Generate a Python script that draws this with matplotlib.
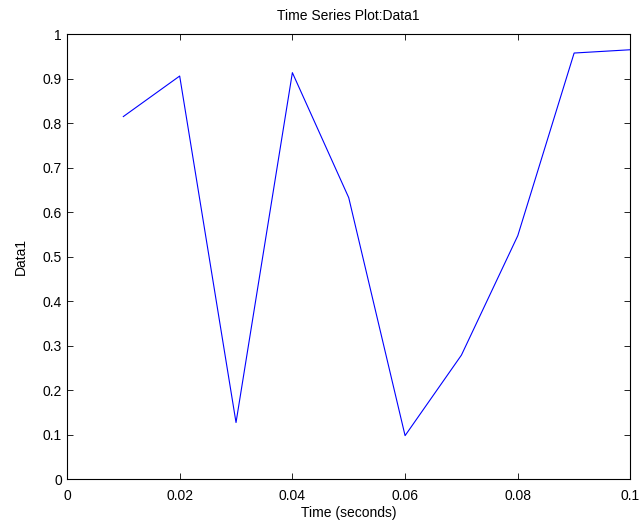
import numpy as np
import matplotlib
matplotlib.use("Agg")
import matplotlib.pyplot as plt

plt.rcParams['font.family'] = ['Liberation Sans', 'DejaVu Sans']

# time points and Data1 samples
time = [0.01, 0.02, 0.03, 0.04, 0.05, 0.06, 0.07, 0.08, 0.09, 0.10]
data1 = [0.8147, 0.9058, 0.1270, 0.9134, 0.6324, 0.0975, 0.2785, 0.5469, 0.9575, 0.9649]

fig = plt.figure(figsize=(6.44, 5.25), dpi=100)
ax = fig.add_axes([0.104, 0.0876, 0.875, 0.8474])
ax.plot(time, data1, color='b', linewidth=0.8)

ax.set_xlim(0, 0.1)
ax.set_ylim(0, 1)
ax.set_xticks([0, 0.02, 0.04, 0.06, 0.08, 0.1])
ax.set_xticklabels(['0', '0.02', '0.04', '0.06', '0.08', '0.1'])
ax.set_yticks(np.arange(0, 1.01, 0.1))
ax.set_yticklabels(['0', '0.1', '0.2', '0.3', '0.4', '0.5', '0.6', '0.7', '0.8', '0.9', '1'])
ax.tick_params(direction='in', top=True, right=True, labelsize=10, length=4, width=0.6)
ax.tick_params(axis='x', pad=7)
for s in ax.spines.values():
    s.set_linewidth(0.8)

ax.set_title("Time Series Plot:Data1", fontsize=10, pad=10)
ax.set_xlabel("Time (seconds)", fontsize=10, labelpad=2)
ax.set_ylabel("Data1", fontsize=10, labelpad=11)

fig.savefig("out.png", dpi=100)
